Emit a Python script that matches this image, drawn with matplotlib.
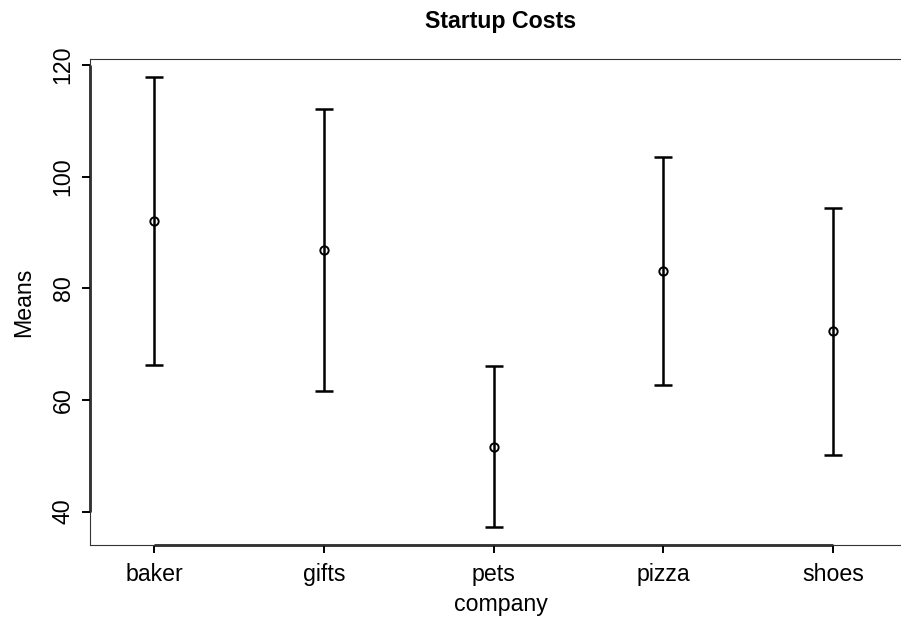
import numpy as np
import matplotlib.pyplot as plt

# Group means with lower / upper interval bounds
company = ['baker', 'gifts', 'pets', 'pizza', 'shoes']
means = [92.0, 86.9, 51.6, 83.1, 72.3]
lower = [66.3, 61.6, 37.3, 62.6, 50.2]
upper = [117.8, 112.2, 66.0, 103.5, 94.4]
yticks = [40, 60, 80, 100, 120]

plt.rcParams['font.family'] = ['Liberation Sans', 'DejaVu Sans']
fs = 16.7

W, H = 901, 623
fig = plt.figure(figsize=(W / 100, H / 100), dpi=100)
ax = fig.add_axes([90 / W, (H - 545) / H, 822 / W, 486 / H])

x = np.arange(1, len(company) + 1)
m = np.array(means)
err = np.vstack([m - np.array(lower), np.array(upper) - m])

ax.errorbar(x, m, yerr=err, fmt='none', ecolor='black', elinewidth=1.8,
            capsize=6.8, capthick=1.8)
ax.plot(x, m, 'o', mfc='none', mec='black', ms=6, mew=1.4)

ax.set_xlim(0.623, 5.465)
ax.set_ylim(34.03, 121.07)

# thin box around the plotting region
for s in ax.spines.values():
    s.set_linewidth(0.8)
    s.set_color('#333333')

# axis lines only span the tick range, like base R graphics
ax.plot([0.623, 0.623], [40, 120], color='black', lw=1.8, clip_on=False,
        solid_capstyle='butt')
ax.plot([1, 5], [34.03, 34.03], color='black', lw=1.8, clip_on=False,
        solid_capstyle='butt')

ax.set_xticks(x)
ax.set_xticklabels(company, fontsize=fs)
ax.set_yticks(yticks)
ax.set_yticklabels([str(v) for v in yticks], fontsize=fs, rotation=90,
                   va='center')
ax.tick_params(axis='both', length=6, width=1.4, color='black')
ax.tick_params(axis='x', pad=7)
ax.tick_params(axis='y', pad=5)

ax.set_xlabel('company', fontsize=fs, labelpad=5)
ax.set_ylabel('Means', fontsize=fs, labelpad=12)
ax.set_title('Startup Costs', fontsize=fs, fontweight='bold', pad=22)

fig.savefig('out.png', dpi=100)
